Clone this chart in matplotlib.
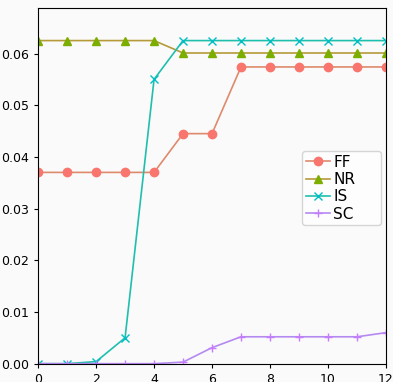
import matplotlib
matplotlib.use("Agg")
import matplotlib.pyplot as plt

x = list(range(13))
ff = [0.037, 0.037, 0.037, 0.037, 0.037, 0.0445, 0.0445,
      0.0574, 0.0574, 0.0574, 0.0574, 0.0574, 0.0574]
nr = [0.0625, 0.0625, 0.0625, 0.0625, 0.0625, 0.0601, 0.0601,
      0.0601, 0.0601, 0.0601, 0.0601, 0.0601, 0.0601]
is_ = [0.0, 0.0, 0.0004, 0.005, 0.055, 0.0625, 0.0625,
       0.0625, 0.0625, 0.0625, 0.0625, 0.0625, 0.0625]
sc = [0.0, 0.0, 0.0, 0.0, 0.0, 0.0003, 0.0031,
      0.0052, 0.0052, 0.0052, 0.0052, 0.0052, 0.006]

series = [
    ("FF", ff, "o", "#DE8A6C", "#F8766D"),
    ("NR", nr, "^", "#B59A3A", "#7CAE00"),
    ("IS", is_, "x", "#1FBFAE", "#00BFC4"),
    ("SC", sc, "+", "#B489F0", "#C77CFF"),
]

fig = plt.figure(figsize=(3.93, 3.82), dpi=100, facecolor="#FAFAFA")
ax = fig.add_axes([0.097, 0.048, 0.885, 0.931])
ax.set_facecolor("#FAFAFA")

for name, vals, mk, lc, mc in series:
    ax.plot(x, vals, color=lc, marker=mk, markersize=6, linewidth=1.2,
            markerfacecolor=mc, markeredgecolor=mc, label=name)

ax.set_xlim(0, 12)
ax.set_ylim(0, 0.0688)
ax.set_xticks([0, 2, 4, 6, 8, 10, 12])
ax.set_yticks([0.0, 0.01, 0.02, 0.03, 0.04, 0.05, 0.06])
ax.set_yticklabels([f"{v:.2f}" for v in ax.get_yticks()])
ax.tick_params(labelsize=9, length=3)

# legend frame is wider than its entries in the reference
leg = fig.legend(loc="upper left", bbox_to_anchor=(0.768, 0.605, 0.201, 0.0),
                 mode="expand", fontsize=11,
                 handlelength=1.6, handletextpad=0.2, borderpad=0.25,
                 labelspacing=0.15, borderaxespad=0.0)

fig.savefig("out.png", dpi=100, facecolor=fig.get_facecolor())
